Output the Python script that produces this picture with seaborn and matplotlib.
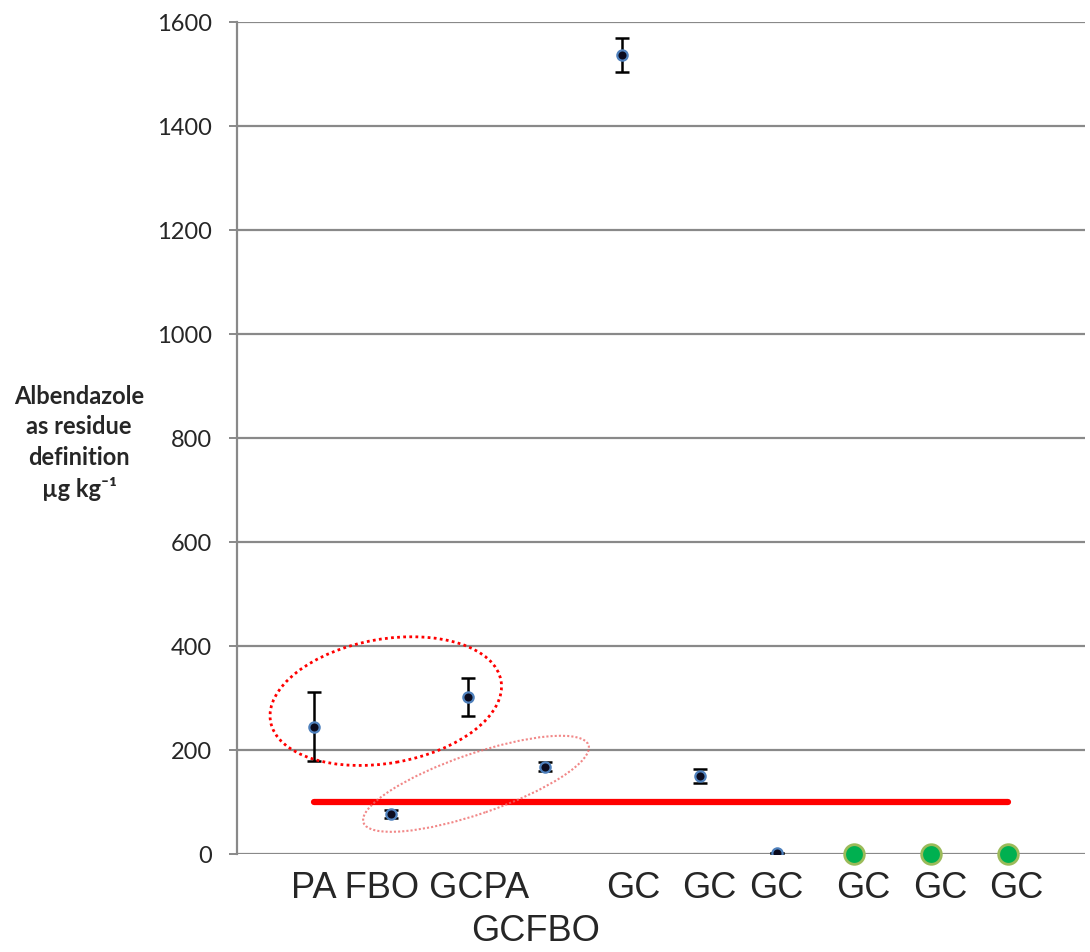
import numpy as np
import pandas as pd
import matplotlib
matplotlib.use("Agg")
import matplotlib.pyplot as plt
from matplotlib.patches import Ellipse
from matplotlib.transforms import ScaledTranslation
import seaborn as sns

# Samples and measured albendazole residues (µg/kg)
categories = ["PA", "FBO", "GCPA", "GCFBO", "GC", "GC", "GC", "GC", "GC", "GC"]
means = [245, 77, 302, 168, 1537, 150, 2, 0, 0, 0]
errors = [66, 8, 36, 8, 33, 13, 0, 0, 0, 0]
detected = [True, True, True, True, True, True, True, False, False, False]
mrl_value = 100
y_ticks = [0, 200, 400, 600, 800, 1000, 1200, 1400, 1600]

sns.set_style("white")
plt.rcParams["font.family"] = ["Lato", "DejaVu Sans"]

fig = plt.figure(figsize=(10.9, 9.53), dpi=100)
ax = fig.add_axes([237 / 1090, 98 / 953, 848 / 1090, 832 / 953])

xpos = np.arange(1, len(categories) + 1)
df = pd.DataFrame({"x": xpos, "mean": means, "err": errors, "detected": detected})

# horizontal grid
for y in y_ticks:
    ax.axhline(y, color="#898989", lw=1.6, zorder=0)

# maximum residue limit line
sns.lineplot(x=[xpos[0], xpos[-1]], y=[mrl_value, mrl_value], ax=ax,
             color="#FF0000", lw=4.5, solid_capstyle="round", zorder=2)

# error bars
det = df[df["detected"]]
ax.errorbar(det["x"], det["mean"], yerr=det["err"], fmt="none",
            ecolor="black", elinewidth=1.8, capsize=5, capthick=1.8, zorder=3)

# measured points
sns.scatterplot(data=det, x="x", y="mean", ax=ax, s=55, color="#0B0B1E",
                edgecolor="#4F81BD", linewidth=1.6, zorder=4, legend=False)
nd = df[~df["detected"]]
sns.scatterplot(data=nd, x="x", y="mean", ax=ax, s=200, color="#00B050",
                edgecolor="#9BBB59", linewidth=2.0, zorder=4, legend=False,
                clip_on=False)

ax.set_xlim(0, 11)
ax.set_ylim(0, 1600)
ax.set_yticks(y_ticks)
ax.set_yticklabels([str(v) for v in y_ticks], fontsize=17)
ax.set_xticks([])
ax.set_xlabel("")
ax.set_ylabel("")
ax.tick_params(axis="y", length=6, width=1.4, color="#898989", pad=12, left=True)
for side in ["top", "right", "bottom"]:
    ax.spines[side].set_visible(False)
ax.spines["left"].set_color("#898989")
ax.spines["left"].set_linewidth(1.6)

# category labels
xt = ax.get_xaxis_transform()
label_font = dict(fontsize=26, family="Liberation Sans", va="center")
ax.text(0.702, -0.04, " ".join(categories[:3]), transform=xt, ha="left",
        **label_font)
ax.text(3.879, -0.092, categories[3], transform=xt, ha="center", **label_font)
gc_x = [5.14, 6.128, 6.997, 8.126, 9.125, 10.11]
for lx, lab in zip(gc_x, categories[4:]):
    ax.text(lx, -0.04, lab, transform=xt, ha="center", **label_font)

# y axis title
fig.text(79 / 1090, 1 - 443 / 953,
         "Albendazole\nas residue\ndefinition\nµg kg⁻¹",
         ha="center", va="center", fontsize=17, fontweight="bold",
         linespacing=1.4)

# grouping ellipses (sizes in pixels, centred in data coordinates)
def ring(cx, cy, w, h, angle, **kw):
    tr = fig.dpi_scale_trans + ScaledTranslation(cx, cy, ax.transData)
    e = Ellipse((0, 0), w / 100, h / 100, angle=angle, transform=tr,
                fill=False, **kw)
    ax.add_patch(e)

ring(1.93, 294, 234, 124, 10, edgecolor="#FF0000", lw=2.0,
     linestyle=(0, (1, 1.2)), zorder=5)
ring(3.10, 135, 238, 60, 19, edgecolor="#EE6A6A", lw=1.5, alpha=0.8,
     linestyle=(0, (1, 1)), zorder=5)

fig.savefig("out.png", dpi=100)
